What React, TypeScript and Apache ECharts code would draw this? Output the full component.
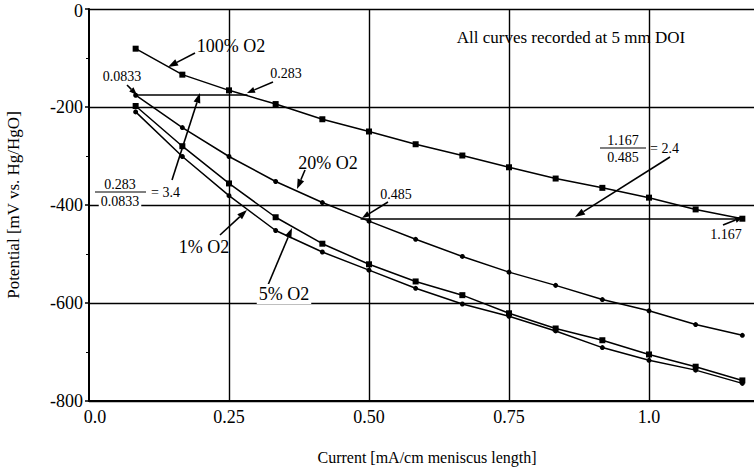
import React, { useEffect, useRef } from "react";
import * as echarts from "echarts";

const currents = [0.0833, 0.1667, 0.25, 0.3333, 0.4167, 0.5, 0.5833, 0.6667, 0.75, 0.8333, 0.9167, 1.0, 1.0833, 1.1667];
const o2_100 = [-81, -134, -166, -194, -225, -250, -276, -299, -323, -346, -365, -385, -409, -428];
const o2_20 = [-176, -242, -301, -352, -395, -433, -470, -505, -537, -564, -593, -616, -644, -666];
const o2_5 = [-198, -280, -356, -425, -479, -521, -556, -584, -621, -652, -676, -705, -730, -758];
const o2_1 = [-210, -301, -381, -452, -496, -533, -570, -602, -627, -657, -691, -717, -737, -764];
const xTickLabels: Record<string, string> = { "0": "0.0", "0.25": "0.25", "0.5": "0.50", "0.75": "0.75", "1": "1.0" };
const ratioLow = [0.0833, 0.283, -175];
const ratioHigh = [0.485, 1.167, -428];

const FONT = "'Liberation Serif', 'Times New Roman', serif";

function arrow(x1: number, y1: number, x2: number, y2: number, head = 10, half = 3.5) {
  const dx = x2 - x1, dy = y2 - y1;
  const L = Math.sqrt(dx * dx + dy * dy);
  const ux = dx / L, uy = dy / L;
  const bx = x2 - ux * head, by = y2 - uy * head;
  const px = -uy, py = ux;
  return [
    { type: "line", shape: { x1, y1, x2: bx, y2: by }, style: { stroke: "#000", lineWidth: 1.6 }, z: 100 },
    {
      type: "polygon",
      shape: { points: [[x2, y2], [bx + px * half, by + py * half], [bx - px * half, by - py * half]] },
      style: { fill: "#000" },
      z: 100,
    },
  ];
}

function txt(text: string, x: number, y: number, size: number, align = "center", bg = false) {
  return {
    type: "text",
    z: 101,
    style: {
      text,
      x,
      y,
      fontSize: size,
      fontFamily: FONT,
      fill: "#000",
      align,
      verticalAlign: "middle",
      ...(bg ? { backgroundColor: "#fff", padding: [1, 2, 1, 2] } : {}),
    },
  };
}

function fraction(top: string, bottom: string, cx: number, barY: number, x1: number, x2: number, rhs: string, rx: number, bottomBg = false) {
  return [
    txt(top, cx, barY - 8, 14),
    { type: "line", shape: { x1, y1: barY, x2, y2: barY }, style: { stroke: "#000", lineWidth: 1.2 }, z: 101 },
    txt(bottom, cx, barY + 9, 14, "center", bottomBg),
    txt(rhs, rx, barY, 14, "left"),
  ];
}

export default function App() {
  const ref = useRef<HTMLDivElement>(null);
  useEffect(() => {
    if (!ref.current) return;
    const chart = echarts.init(ref.current, null, { renderer: "svg" });
    const mk = (vals: number[], symbol: string, size: number, extra: any = {}) => ({
      type: "line",
      data: currents.map((x, i) => [x, vals[i]]),
      symbol,
      symbolSize: size,
      showSymbol: true,
      lineStyle: { color: "#000", width: 1.5 },
      itemStyle: { color: "#000" },
      z: 5,
      ...extra,
    });
    const graphic: any[] = [
      txt("Current [mA/cm meniscus length]", 427, 457, 16),
      txt("All curves recorded at 5 mm DOI", 571, 37, 17),
      txt("100% O2", 231, 46, 18),
      txt("20% O2", 328, 163, 18),
      txt("1% O2", 204, 247, 18),
      txt("5% O2", 284, 294, 18, "center", true),
      txt("0.0833", 122, 76, 14),
      txt("0.283", 286, 73, 14),
      txt("0.485", 396, 194, 14),
      txt("1.167", 726, 234, 14),
      ...fraction("0.283", "0.0833", 120, 192, 95, 146, "= 3.4", 151, true),
      ...fraction("1.167", "0.485", 623, 148, 600, 646, "= 2.4", 650),
      ...arrow(195, 53, 168, 67),
      ...arrow(127, 85, 137, 95, 8, 3),
      ...arrow(273, 82, 247, 93, 8, 3),
      ...arrow(172, 180, 200, 93),
      ...arrow(305, 170, 297, 189),
      ...arrow(388, 202, 362, 218, 8, 3),
      ...arrow(670, 157, 575, 217),
      ...arrow(723, 225, 743, 217, 8, 3),
      ...arrow(220, 235, 247, 210),
      ...arrow(268, 285, 292, 228),
    ];
    chart.setOption({
      animation: false,
      backgroundColor: "#fff",
      textStyle: { fontFamily: FONT },
      grid: { left: 89, top: 9, right: 0, bottom: 69, containLabel: false, outerBoundsMode: "none" },
      xAxis: {
        type: "value",
        min: 0,
        max: 1.1875,
        interval: 0.25,
        axisLine: { onZero: false, lineStyle: { color: "#000", width: 2 } },
        axisTick: { show: false },
        axisLabel: {
          color: "#000",
          fontSize: 18,
          fontFamily: FONT,
          margin: 7,
          showMaxLabel: false,
          formatter: (v: number) => {
            const k = String(Math.round(v * 100) / 100);
            if (k === "0") return "{a|0.0}";
            return xTickLabels[k] ?? "";
          },
          rich: { a: { fontSize: 18, fontFamily: FONT, color: "#000", padding: [0, 0, 0, 12] } },
        },
        splitLine: { show: true, showMinLine: false, showMaxLine: false, lineStyle: { color: "#000", width: 1.4 } },
      },
      yAxis: {
        type: "value",
        min: -800,
        max: 0,
        interval: 200,
        name: "Potential [mV vs. Hg/HgO]",
        nameLocation: "middle",
        nameGap: 67,
        nameTextStyle: { fontSize: 17, color: "#000", fontFamily: FONT },
        axisLine: { lineStyle: { color: "#000", width: 2 } },
        axisTick: { show: true, length: 4, lineStyle: { color: "#000", width: 1.5 } },
        minorTick: { show: true, splitNumber: 2, length: 3, lineStyle: { color: "#000", width: 1 } },
        axisLabel: {
          color: "#000",
          fontSize: 18,
          fontFamily: FONT,
          margin: 6,
          formatter: (v: number) => (v === 0 ? "{z|0}" : String(v)),
          rich: { z: { fontSize: 18, fontFamily: FONT, color: "#000", padding: [4, 0, 0, 0] } },
        },
        splitLine: { show: true, lineStyle: { color: "#000", width: 1.4 } },
      },
      series: [
        mk(o2_100, "rect", 6, {
          markLine: {
            silent: true,
            symbol: "none",
            label: { show: false },
            lineStyle: { color: "#000", width: 1.5, type: "solid" },
            data: [
              [{ coord: [ratioLow[0], ratioLow[2]] }, { coord: [ratioLow[1], ratioLow[2]] }],
              [{ coord: [ratioHigh[0], ratioHigh[2]] }, { coord: [ratioHigh[1], ratioHigh[2]] }],
            ],
          },
        }),
        mk(o2_20, "circle", 5),
        mk(o2_5, "rect", 6),
        mk(o2_1, "circle", 5),
      ],
      graphic,
    });
    return () => chart.dispose();
  }, []);
  return <div ref={ref} style={{ position: "fixed", left: 0, top: 0, width: 754, height: 470, background: "#fff" }} />;
}
